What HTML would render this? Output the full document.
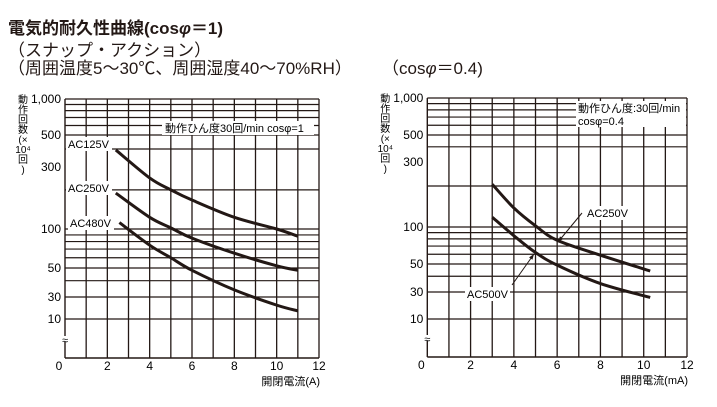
<!DOCTYPE html>
<html><head><meta charset="utf-8"><style>
body{margin:0;background:#fff;width:717px;height:407px;overflow:hidden;font-family:"Liberation Sans","Noto Sans CJK JP",sans-serif;color:#231815}
.t{position:absolute;white-space:nowrap;font-size:17px;line-height:1}
svg{position:absolute;left:0;top:0}
</style></head><body>
<div class="t" style="left:8px;top:20px;font-weight:bold;">電気的耐久性曲線(cos<i>φ</i>＝1)</div>
<div class="t" style="left:8px;top:42px;">（スナップ・アクション）</div>
<div class="t" style="left:8px;top:60px;">（周囲温度5～30℃、周囲湿度40～70%RH）</div>
<div class="t" style="left:382px;top:60px;">（cos<i>φ</i>＝0.4)</div>
<svg id="svg" width="717" height="407"></svg>
<script>
// Left chart data (cosφ=1)
const xTicks = [0,2,4,6,8,10,12];
const yTickLabels = ["1,000","500","300","100","50","30","10"];
const yTickValues = [1000,500,300,100,50,30,10];
const gridValues = [1000,900,800,700,600,500,400,200,100,90,80,70,60,50,40,30,10];
const ac125x = [2.4,4,5,6,8,10,11];
const ac125y = [394,247,200,167,123,100,88];
const ac250x = [2.4,4,5,6,8,10,11];
const ac250y = [189,123,102,85,65,52,48];
const ac480x = [2.57,4,5,6,8,10,11];
const ac480y = [112,75,60,48,34,20,15];
// Right chart data (cosφ=0.4)
const r250x = [3,4,5,6,8,10.3];
const r250y = [206,138,102,78,59,44];
const r500x = [3,4,5,6,8,10.3];
const r500y = [118,85,62,49,35,24];

const NS="http://www.w3.org/2000/svg";
const svg=document.getElementById('svg');
function mk(tag,attrs,parent){const e=document.createElementNS(NS,tag);for(const k in attrs)e.setAttribute(k,attrs[k]);(parent||svg).appendChild(e);return e;}

function makeAxes(x0,x1,bottom,anchorsV,anchorsP){
  const xs=v=>x0+(x1-x0)*v/12;
  const ys=v=>{const lv=Math.log10(v);
    for(let i=0;i<anchorsV.length-1;i++){const a=Math.log10(anchorsV[i]),b=Math.log10(anchorsV[i+1]);
      if(lv<=a&&lv>=b){return anchorsP[i]+(anchorsP[i+1]-anchorsP[i])*(a-lv)/(a-b);}}
    return lv>Math.log10(anchorsV[0])?anchorsP[0]:anchorsP[anchorsP.length-1];};
  return {xs,ys,x0,x1,bottom,top:anchorsP[0]};
}

function drawChart(ax,prefix,unit,seriesList){
  const g=mk('g',{});
  
  
  for(let i=1;i<=12;i++){
    const l=mk('line',{x1:ax.xs(i),x2:ax.xs(i),y1:ax.top,y2:ax.bottom,stroke:'#231815','stroke-width':1.3},g);
    
    
  }
  gridValues.forEach(v=>{
    const y=ax.ys(v);
    const l=mk('line',{x1:ax.x0,x2:ax.x1,y1:y,y2:y,stroke:'#231815','stroke-width':1.2},g);
    
    
  });
  const axl=mk('line',{x1:ax.x0,x2:ax.x0,y1:ax.top,y2:ax.bottom,stroke:'#231815','stroke-width':1.4},g);
  
  
  const bl=mk('line',{x1:ax.x0,x2:ax.x1,y1:ax.bottom,y2:ax.bottom,stroke:'#231815','stroke-width':1.4},g);
  
  
  const br=mk('rect',{x:ax.x0-3,y:ax.bottom-22,width:6,height:6,fill:'#fff'},g);
  
  
  const bt=mk('text',{x:ax.x0,y:ax.bottom-14,'font-size':11,'text-anchor':'middle'},g);
  bt.textContent='≈';
  
  
  yTickValues.forEach((v,i)=>{
    const t=mk('text',{x:ax.x0-4,y:ax.ys(v)+4,'font-size':12,'text-anchor':'end'},g);
    t.textContent=yTickLabels[i];
    
    
  });
  xTicks.forEach(v=>{
    const t=mk('text',{x:v===0?ax.xs(0)-6:ax.xs(v),y:ax.bottom+12,'font-size':12,'text-anchor':'middle'},g);
    t.textContent=v;
    
    
  });
  const xt=mk('text',{x:ax.x1+1,y:ax.bottom+27,'font-size':11,'text-anchor':'end'},g);
  xt.textContent='開閉電流('+unit+')';
  
  
  const yl=['動','作','回','数','(×','10⁴','回',')'];
  const ytg=mk('g',{},g);
  
  
  yl.forEach((c,i)=>{
    const t=mk('text',{x:ax.x0-42,y:ax.top+4+i*10,'font-size':10,'text-anchor':'middle'},ytg);
    t.textContent=c;
  });
  seriesList.forEach(s=>{
    const pts=s.x.map((v,i)=>[ax.xs(v),ax.ys(s.y[i])]);
    let p='M'+pts[0][0]+','+pts[0][1];
    for(let i=0;i<pts.length-1;i++){
      const p0=pts[Math.max(0,i-1)],p1=pts[i],p2=pts[i+1],p3=pts[Math.min(pts.length-1,i+2)];
      const c1=[p1[0]+(p2[0]-p0[0])/6,p1[1]+(p2[1]-p0[1])/6],c2=[p2[0]-(p3[0]-p1[0])/6,p2[1]-(p3[1]-p1[1])/6];
      p+=' C'+c1[0]+','+c1[1]+' '+c2[0]+','+c2[1]+' '+p2[0]+','+p2[1];
    }
    const path=mk('path',{d:p,fill:'none',stroke:'#231815','stroke-width':3},g);
    
    
  });
  return g;
}

const L=makeAxes(65,319,358,[1000,500,300,100,50,30,10],[99,135,167,229,268,297,319]);
drawChart(L,'left','A',[{name:'ac125v-curve',x:ac125x,y:ac125y},{name:'ac250v-curve',x:ac250x,y:ac250y},{name:'ac480v-curve',x:ac480x,y:ac480y}]);
const R=makeAxes(427.3,687,357,[1000,500,300,100,50,30,10],[98,135,162,227,264,292,319]);
drawChart(R,'right','mA',[{name:'ac250v-curve-cos04',x:r250x,y:r250y},{name:'ac500v-curve-cos04',x:r500x,y:r500y}]);

function label(x,y,txt,name,anchor,bg){
  if(bg){const r=mk('rect',bg);}
  const t=mk('text',{x:x,y:y,'font-size':11,'text-anchor':anchor||'start'});
  t.textContent=txt;
  
  
}
label(68,148,'AC125V','label-ac125v','start',{x:66,y:137,width:46,height:14,fill:'#fff'});
label(68,192,'AC250V','label-ac250v','start',{x:66,y:181,width:46,height:14,fill:'#fff'});
label(70,227,'AC480V','label-ac480v','start',{x:68,y:216,width:46,height:14,fill:'#fff'});
label(165,132,'動作ひん度30回/min cosφ=1','left-conditions','start',{x:162,y:121,width:152,height:14,fill:'#fff'});
label(578,112,'動作ひん度:30回/min','right-conditions-1','start',{x:576,y:101,width:110,height:26,fill:'#fff'});
label(578,125,'cosφ=0.4','right-conditions-2','start');
label(587,217,'AC250V','label-ac250v-cos04','start',{x:585,y:206,width:45,height:14,fill:'#fff'});
label(467,298,'AC500V','label-ac500v-cos04','start',{x:465,y:287,width:45,height:14,fill:'#fff'});
function arrow(x1,y1,x2,y2,name){
  const l=mk('line',{x1:x1,y1:y1,x2:x2,y2:y2,stroke:'#231815','stroke-width':1});
  
  
  const a=Math.atan2(y2-y1,x2-x1),s=6;
  const p=mk('polygon',{points:`${x2},${y2} ${x2-s*Math.cos(a-0.35)},${y2-s*Math.sin(a-0.35)} ${x2-s*Math.cos(a+0.35)},${y2-s*Math.sin(a+0.35)}`,fill:'#231815'});
  
  
}
arrow(582,213,558,242,'arrow-ac250v');
arrow(512,285,534,254,'arrow-ac500v');
</script>
</body></html>
